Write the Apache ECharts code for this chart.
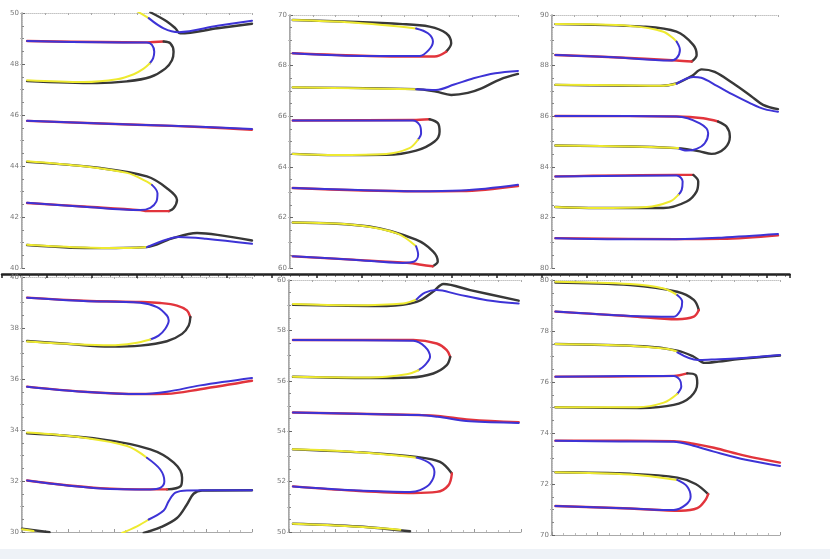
<!DOCTYPE html>
<html>
<head>
<meta charset="utf-8">
<script src="https://cdn.jsdelivr.net/npm/echarts@6/dist/echarts.min.js"></script>
<style>
  html, body { margin: 0; padding: 0; background: #fff; }
  #main { width: 830px; height: 559px; }
</style>
</head>
<body>
<div id="main"></div>
<script>
// y ranges of the six panels (TL, BL, TM, BM, TR, BR)
const yRanges = [[40, 50], [30, 40], [60, 70], [50, 60], [80, 90], [70, 80]];

// ---- panel 1 (top left) ----
const p1_top_yel = [[50, 50.07], [55.1, 49.8]];
const p1_top_blu = [[55.1, 49.8], [61.6, 49.4], [68.1, 49.25], [85, 49.5], [100, 49.7]];
const p1_top_blk = [[55.8, 50.03], [63, 49.67], [66.7, 49.4], [68.8, 49.2], [85, 49.4], [100, 49.58]];
const p1_f1_blu = [[2.2, 48.9], [34, 48.85], [54.3, 48.84], [56.5, 48.75], [57.5, 48.48], [57, 48.22], [55.5, 48.02]];
const p1_f1_yel = [[55.5, 48.02], [52.9, 47.82], [48.6, 47.6], [41.3, 47.4], [26.8, 47.29], [2.2, 47.36]];
const p1_f1_red = [[2.2, 48.9], [34, 48.86], [54.3, 48.85], [61.6, 48.88]];
const p1_f1_blk = [[61.6, 48.88], [64.5, 48.81], [65.9, 48.48], [65.2, 48.15], [62.3, 47.82], [55.8, 47.49], [45.7, 47.32], [32.6, 47.25], [2.2, 47.33]];
const p1_flat_red = [[2.2, 45.77], [50, 45.62], [80, 45.52], [100, 45.42]];
const p1_flat_blu = [[2.2, 45.77], [50, 45.62], [80, 45.53], [100, 45.45]];
const p1_f2_yel = [[2.2, 44.19], [26.8, 43.99], [45.7, 43.73], [54.3, 43.39], [56.5, 43.26]];
const p1_f2_blu = [[56.5, 43.26], [58.9, 42.93], [58.4, 42.6], [55.8, 42.36], [51.4, 42.27], [26.8, 42.4], [2.2, 42.56]];
const p1_f2_blk = [[2.2, 44.16], [34, 43.92], [54.3, 43.59], [63, 43.13], [67.4, 42.67], [65.9, 42.34], [63.8, 42.23]];
const p1_f2_red = [[63.8, 42.23], [54.3, 42.23], [51.4, 42.27], [26.8, 42.41], [2.2, 42.55]];
const p1_bot_yel = [[2.2, 40.91], [26.8, 40.8], [45.7, 40.78], [54.3, 40.82]];
const p1_bot_blu = [[54.3, 40.82], [63, 41.12], [68.1, 41.22], [80, 41.15], [100, 40.95]];
const p1_bot_blk = [[2.2, 40.9], [30, 40.78], [54.3, 40.82], [65, 41.15], [76.1, 41.37], [85, 41.3], [100, 41.08]];

// ---- panel 2 (bottom left) ----
const p2_f1_blu = [[2.2, 39.19], [26.8, 39.06], [51.4, 38.99], [58.7, 38.82], [63, 38.49], [63.8, 38.29], [62.3, 37.97], [59.4, 37.7], [55.8, 37.55]];
const p2_f1_yel = [[55.8, 37.55], [48.6, 37.4], [38.4, 37.32], [19.6, 37.38], [2.2, 37.47]];
const p2_f1_red = [[2.2, 39.19], [26.8, 39.07], [51.4, 39.02], [60.1, 38.98], [67.4, 38.88], [71.7, 38.69], [73.2, 38.43]];
const p2_f1_blk = [[73.2, 38.43], [72.5, 38.1], [69.6, 37.77], [63, 37.48], [51.4, 37.31], [38.4, 37.27], [19.6, 37.38], [2.2, 37.49]];
const p2_flat_blu = [[2.2, 35.7], [26.8, 35.5], [51.4, 35.41], [63, 35.5], [77.5, 35.75], [100, 36.04]];
const p2_flat_red = [[2.2, 35.7], [26.8, 35.5], [51.4, 35.41], [63, 35.42], [77.5, 35.6], [100, 35.93]];
const p2_f2_yel = [[2.2, 33.9], [26.8, 33.7], [45.7, 33.37], [54.3, 32.91]];
const p2_f2_blu = [[54.3, 32.91], [60.1, 32.45], [61.9, 31.99], [60.1, 31.73], [55.8, 31.67], [34, 31.71], [2.2, 32.02]];
const p2_f2_blk = [[2.2, 33.87], [34, 33.64], [55.8, 33.24], [66, 32.72], [69.6, 32.13], [69, 31.8], [63, 31.67]];
const p2_f2_red = [[63, 31.67], [58.7, 31.67], [34, 31.72], [2.2, 32.02]];
const p2_tr_yel = [[43.5, 29.96], [50, 30.22], [55.1, 30.49]];
const p2_tr_blu = [[55.1, 30.49], [61.6, 30.84], [63.8, 31.21], [66.7, 31.54], [71.7, 31.63], [100, 31.64]];
const p2_tr_blk = [[52.9, 29.96], [60.1, 30.18], [67.4, 30.55], [71.7, 31.08], [74.6, 31.5], [78.3, 31.63], [100, 31.64]];
const p2_cor_blk = [[0, 30.13], [12, 29.99]];
const p2_cor_yel = [[0, 30.11], [5, 30.04]];

// ---- panel 3 (top middle) ----
const p3_f1_yel = [[1.2, 69.8], [27.5, 69.7], [55.3, 69.47]];
const p3_f1_blu = [[55.3, 69.47], [60.5, 69.28], [62.7, 68.95], [60.9, 68.62], [56.8, 68.38], [34.8, 68.38], [1.2, 68.49]];
const p3_f1_blk = [[1.2, 69.8], [49.5, 69.64], [61.2, 69.54], [68.5, 69.28], [70.7, 68.88], [68.5, 68.55]];
const p3_f1_red = [[68.5, 68.55], [63.4, 68.36], [56.8, 68.36], [34.8, 68.38], [1.2, 68.49]];
const p3_tr_yel = [[1.2, 67.14], [30, 67.1], [55.3, 67.07]];
const p3_tr_blu = [[55.3, 67.07], [64, 67.04], [72, 67.25], [80.5, 67.5], [90, 67.7], [100, 67.79]];
const p3_tr_blk = [[1.2, 67.14], [55.3, 67.07], [64, 66.97], [70.7, 66.84], [78, 66.92], [84, 67.1], [92, 67.45], [100, 67.67]];
const p3_f2_blu = [[1.2, 65.83], [53.9, 65.83], [56.8, 65.66], [57.5, 65.33], [56.1, 65.07]];
const p3_f2_yel = [[56.1, 65.07], [52.4, 64.74], [42.2, 64.51], [20.2, 64.47], [1.2, 64.51]];
const p3_f2_red = [[1.2, 65.83], [53.9, 65.85], [61.2, 65.88]];
const p3_f2_blk = [[61.2, 65.88], [64.9, 65.72], [65.6, 65.39], [63.4, 65.0], [55.3, 64.64], [42.2, 64.47], [20.2, 64.46], [1.2, 64.51]];
const p3_flat_blu = [[1.2, 63.16], [30, 63.08], [55, 63.03], [75, 63.06], [100, 63.29]];
const p3_flat_red = [[1.2, 63.16], [55, 63.03], [75, 63.04], [100, 63.24]];
const p3_f3_yel = [[1.2, 61.8], [27.5, 61.71], [46.6, 61.38], [55.3, 60.86]];
const p3_f3_blu = [[55.3, 60.86], [56.2, 60.53], [54.6, 60.26], [49.5, 60.2], [27.5, 60.33], [1.2, 60.46]];
const p3_f3_blk = [[1.2, 61.8], [34.8, 61.64], [55.3, 61.12], [62.7, 60.66], [64.8, 60.26], [62.6, 60.07]];
const p3_f3_red = [[62.6, 60.07], [57.5, 60.13], [52.4, 60.2], [27.5, 60.33], [1.2, 60.46]];

// ---- panel 4 (bottom middle) ----
const p4_tr_yel = [[1.7, 59.05], [27.7, 59.0], [49.3, 59.07], [55, 59.23]];
const p4_tr_blu = [[55, 59.23], [58.6, 59.5], [63.7, 59.6], [72.3, 59.44], [85.3, 59.2], [99, 59.07]];
const p4_tr_blk = [[1.7, 59.02], [42.1, 58.97], [55, 59.13], [62.2, 59.54], [66.6, 59.84], [78.1, 59.6], [99, 59.18]];
const p4_f1_blu = [[1.7, 57.62], [53.6, 57.59], [58.6, 57.35], [60.8, 56.95], [58.6, 56.62], [55.8, 56.42]];
const p4_f1_yel = [[55.8, 56.42], [50.7, 56.26], [34.9, 56.13], [1.7, 56.16]];
const p4_f1_red = [[1.7, 57.62], [53.6, 57.62], [63.7, 57.48], [68, 57.22], [69.5, 56.95]];
const p4_f1_blk = [[69.5, 56.95], [68, 56.62], [62.2, 56.29], [52.2, 56.13], [34.9, 56.11], [1.7, 56.16]];
const p4_flat_blu = [[1.7, 54.74], [30, 54.69], [56, 54.64], [64, 54.57], [78, 54.39], [99, 54.33]];
const p4_flat_red = [[1.7, 54.74], [56, 54.64], [64, 54.61], [78, 54.46], [99, 54.36]];
const p4_f2_yel = [[1.7, 53.28], [27.7, 53.18], [55, 52.95]];
const p4_f2_blu = [[55, 52.95], [60.8, 52.72], [62.7, 52.38], [60.8, 51.92], [56.5, 51.66], [52.2, 51.59], [27.7, 51.66], [1.7, 51.81]];
const p4_f2_blk = [[1.7, 53.28], [34.9, 53.14], [55, 52.98], [65.1, 52.78], [70.2, 52.32]];
const p4_f2_red = [[70.2, 52.32], [68.7, 51.85], [63.7, 51.59], [53.6, 51.55], [27.7, 51.64], [1.7, 51.81]];
const p4_bot_blk = [[1.7, 50.33], [30, 50.22], [52.2, 50.03]];
const p4_bot_yel = [[1.7, 50.33], [20, 50.26], [40, 50.15], [48, 50.09]];

// ---- panel 5 (top right) ----
const p5_f1_yel = [[1.5, 89.64], [34.6, 89.57], [49.3, 89.34], [55.1, 88.95]];
const p5_f1_blu = [[55.1, 88.95], [56.6, 88.62], [55.1, 88.29], [52.2, 88.2], [27.2, 88.33], [1.5, 88.42]];
const p5_f1_blk = [[1.5, 89.64], [40.4, 89.54], [55.1, 89.34], [62.5, 88.82], [64, 88.42], [61.8, 88.16]];
const p5_f1_red = [[61.8, 88.16], [55.1, 88.2], [27.2, 88.33], [1.5, 88.42]];
const p5_tr_yel = [[1.5, 87.24], [30, 87.22], [48, 87.2], [55.1, 87.28]];
const p5_tr_blu = [[55.1, 87.28], [62.5, 87.55], [66, 87.52], [73, 87.2], [80.1, 86.85], [88, 86.5], [94, 86.28], [100, 86.18]];
const p5_tr_blk = [[1.5, 87.24], [48, 87.2], [55.1, 87.3], [62, 87.6], [66.2, 87.85], [72, 87.75], [80.1, 87.3], [88, 86.8], [93.4, 86.45], [100, 86.28]];
const p5_f2_blu = [[1.5, 86.01], [55.1, 85.99], [65.4, 85.72], [69.1, 85.33], [67.6, 84.93], [64, 84.71], [59.6, 84.64], [55.9, 84.74]];
const p5_f2_yel = [[55.9, 84.74], [34.6, 84.8], [1.5, 84.84]];
const p5_f2_red = [[1.5, 86.01], [55.1, 85.99], [66.9, 85.92], [73.5, 85.79]];
const p5_f2_blk = [[73.5, 85.79], [77.2, 85.59], [78.7, 85.2], [76.5, 84.74], [70.6, 84.51], [65.4, 84.61], [59.6, 84.7], [55.1, 84.74], [34.6, 84.8], [1.5, 84.84]];
const p5_f3_blu = [[1.5, 83.62], [55.1, 83.66], [57.8, 83.42], [57.4, 83.09], [55.9, 82.89]];
const p5_f3_yel = [[55.9, 82.89], [52.2, 82.63], [41.9, 82.41], [19.9, 82.37], [1.5, 82.41]];
const p5_f3_red = [[1.5, 83.62], [55.1, 83.68], [62.5, 83.68]];
const p5_f3_blk = [[62.5, 83.68], [64.7, 83.42], [64, 83.03], [59.6, 82.63], [49.3, 82.37], [19.9, 82.37], [1.5, 82.41]];
const p5_flat_blu = [[1.5, 81.18], [30, 81.14], [55, 81.14], [75, 81.2], [100, 81.34]];
const p5_flat_red = [[1.5, 81.18], [55, 81.14], [75, 81.15], [100, 81.29]];

// ---- panel 6 (bottom right) ----
const p6_f1_yel = [[1.5, 79.93], [34.4, 79.84], [49, 79.67], [54.9, 79.41]];
const p6_f1_blu = [[54.9, 79.41], [57.1, 79.15], [56.4, 78.82], [53.4, 78.56], [34.4, 78.59], [1.5, 78.76]];
const p6_f1_blk = [[1.5, 79.9], [34.4, 79.8], [54.9, 79.54], [62.2, 79.22], [64.4, 78.82]];
const p6_f1_red = [[64.4, 78.82], [62.2, 78.56], [54.9, 78.46], [34.4, 78.58], [1.5, 78.76]];
const p6_tr_yel = [[1.5, 77.49], [34.4, 77.42], [50, 77.3], [55, 77.19]];
const p6_tr_blu = [[55, 77.16], [64, 76.86], [70, 76.88], [82, 76.93], [100, 77.06]];
const p6_tr_blk = [[1.5, 77.49], [40, 77.4], [55, 77.23], [62, 77.0], [67, 76.75], [73, 76.8], [82, 76.9], [100, 77.04]];
const p6_f2_blu = [[1.5, 76.21], [53.4, 76.24], [56.1, 76.08], [56.7, 75.82], [54.9, 75.53]];
const p6_f2_yel = [[54.9, 75.53], [49, 75.19], [37.3, 75.01], [1.5, 75.01]];
const p6_f2_red = [[1.5, 76.21], [53.4, 76.24], [59.3, 76.34]];
const p6_f2_blk = [[59.3, 76.34], [63, 76.27], [63.7, 75.95], [60.8, 75.42], [53.4, 75.1], [38.8, 74.98], [1.5, 75.01]];
const p6_flat_blu = [[1.5, 73.7], [30, 73.67], [53.4, 73.66], [62, 73.5], [71, 73.27], [85, 72.95], [100, 72.71]];
const p6_flat_red = [[1.5, 73.7], [53.4, 73.68], [62, 73.58], [71, 73.42], [85, 73.1], [100, 72.84]];
const p6_f3_yel = [[1.5, 72.46], [34.4, 72.37], [54.9, 72.16]];
const p6_f3_blu = [[54.9, 72.16], [59.3, 71.9], [60.8, 71.5], [58.6, 71.18], [53.4, 70.98], [34.4, 71.04], [1.5, 71.14]];
const p6_f3_blk = [[1.5, 72.46], [34.4, 72.4], [55, 72.25], [63, 72.0], [68.5, 71.6]];
const p6_f3_red = [[68.5, 71.6], [67.3, 71.37], [63.7, 71.05], [56.4, 70.95], [34.4, 71.04], [1.5, 71.14]];

// which segments go in which panel, with their colour
const panelSegments = [
  [[p1_top_blk, 'blk'], [p1_top_yel, 'yel'], [p1_top_blu, 'blu'],
   [p1_f1_red, 'red'], [p1_f1_blk, 'blk'], [p1_f1_blu, 'blu'], [p1_f1_yel, 'yel'],
   [p1_flat_red, 'red'], [p1_flat_blu, 'blu'],
   [p1_f2_blk, 'blk'], [p1_f2_red, 'red'], [p1_f2_yel, 'yel'], [p1_f2_blu, 'blu'],
   [p1_bot_blk, 'blk'], [p1_bot_yel, 'yel'], [p1_bot_blu, 'blu']],
  [[p2_f1_red, 'red'], [p2_f1_blk, 'blk'], [p2_f1_blu, 'blu'], [p2_f1_yel, 'yel'],
   [p2_flat_red, 'red'], [p2_flat_blu, 'blu'],
   [p2_f2_blk, 'blk'], [p2_f2_red, 'red'], [p2_f2_yel, 'yel'], [p2_f2_blu, 'blu'],
   [p2_tr_blk, 'blk'], [p2_tr_yel, 'yel'], [p2_tr_blu, 'blu'],
   [p2_cor_blk, 'blk'], [p2_cor_yel, 'yel']],
  [[p3_f1_blk, 'blk'], [p3_f1_red, 'red'], [p3_f1_yel, 'yel'], [p3_f1_blu, 'blu'],
   [p3_tr_blk, 'blk'], [p3_tr_yel, 'yel'], [p3_tr_blu, 'blu'],
   [p3_f2_red, 'red'], [p3_f2_blk, 'blk'], [p3_f2_blu, 'blu'], [p3_f2_yel, 'yel'],
   [p3_flat_red, 'red'], [p3_flat_blu, 'blu'],
   [p3_f3_blk, 'blk'], [p3_f3_red, 'red'], [p3_f3_yel, 'yel'], [p3_f3_blu, 'blu']],
  [[p4_tr_blk, 'blk'], [p4_tr_yel, 'yel'], [p4_tr_blu, 'blu'],
   [p4_f1_red, 'red'], [p4_f1_blk, 'blk'], [p4_f1_blu, 'blu'], [p4_f1_yel, 'yel'],
   [p4_flat_red, 'red'], [p4_flat_blu, 'blu'],
   [p4_f2_blk, 'blk'], [p4_f2_red, 'red'], [p4_f2_yel, 'yel'], [p4_f2_blu, 'blu'],
   [p4_bot_blk, 'blk'], [p4_bot_yel, 'yel']],
  [[p5_f1_blk, 'blk'], [p5_f1_red, 'red'], [p5_f1_yel, 'yel'], [p5_f1_blu, 'blu'],
   [p5_tr_blk, 'blk'], [p5_tr_yel, 'yel'], [p5_tr_blu, 'blu'],
   [p5_f2_red, 'red'], [p5_f2_blk, 'blk'], [p5_f2_blu, 'blu'], [p5_f2_yel, 'yel'],
   [p5_f3_red, 'red'], [p5_f3_blk, 'blk'], [p5_f3_blu, 'blu'], [p5_f3_yel, 'yel'],
   [p5_flat_red, 'red'], [p5_flat_blu, 'blu']],
  [[p6_f1_blk, 'blk'], [p6_f1_red, 'red'], [p6_f1_yel, 'yel'], [p6_f1_blu, 'blu'],
   [p6_tr_blk, 'blk'], [p6_tr_yel, 'yel'], [p6_tr_blu, 'blu'],
   [p6_f2_red, 'red'], [p6_f2_blk, 'blk'], [p6_f2_blu, 'blu'], [p6_f2_yel, 'yel'],
   [p6_flat_red, 'red'], [p6_flat_blu, 'blu'],
   [p6_f3_blk, 'blk'], [p6_f3_red, 'red'], [p6_f3_yel, 'yel'], [p6_f3_blu, 'blu']]
];

const colors = { yel: '#eeea30', blu: '#3d33d6', blk: '#383838', red: '#e2343c' };
const widths = { yel: 2, blu: 2, blk: 2.4, red: 2.4 };
const zs = { yel: 4, blu: 4, blk: 3, red: 3 };

// panel boxes: TL, BL, TM, BM, TR, BR
const boxes = [
  { left: 22, top: 13, width: 230, height: 255 },
  { left: 22, top: 277, width: 230, height: 255 },
  { left: 290, top: 15, width: 228, height: 253 },
  { left: 289, top: 280, width: 232, height: 252 },
  { left: 552, top: 15, width: 226, height: 253 },
  { left: 552, top: 280, width: 228, height: 255 }
];
const isBottom = [false, true, false, true, false, true];

const myChart = echarts.init(document.getElementById('main'), null, { renderer: 'canvas' });

const grid = [];
const xAxis = [];
const yAxis = [];
const series = [];
const dotted = { color: '#c4c4c4', width: 1, type: 'dotted' };

boxes.forEach((b, i) => {
  grid.push(Object.assign({ containLabel: false }, b));
  // main x axis (bottom)
  xAxis.push({
    type: 'value', gridIndex: i, min: 0, max: 100, interval: 20,
    axisLine: { show: isBottom[i], onZero: false, lineStyle: { color: '#aaa', width: 1 } },
    axisTick: { show: isBottom[i], length: 3, inside: true, lineStyle: { color: '#999' } },
    minorTick: { show: isBottom[i], splitNumber: 4, length: 2, lineStyle: { color: '#bbb' } },
    axisLabel: { show: false }, splitLine: { show: false }
  });
  // top frame
  xAxis.push({
    type: 'value', gridIndex: i, min: 0, max: 100, interval: 10, position: 'top',
    axisLine: { show: true, lineStyle: dotted },
    axisTick: { show: true, inside: true, length: 2, lineStyle: { color: '#aaa' } },
    axisLabel: { show: false }, splitLine: { show: false }
  });
  yAxis.push({
    type: 'value', gridIndex: i, min: yRanges[i][0], max: yRanges[i][1], interval: 2,
    axisLine: { show: true, onZero: false, lineStyle: { color: '#8a8a8a', width: 1.5 } },
    axisTick: { show: true, length: 3, inside: true, lineStyle: { color: '#666' } },
    minorTick: { show: true, splitNumber: 4, length: 2, lineStyle: { color: '#888' } },
    axisLabel: { show: true, fontSize: 7, color: '#777', margin: 3, fontFamily: 'DejaVu Sans' },
    splitLine: { show: false }
  });
  // right frame
  yAxis.push({
    type: 'value', gridIndex: i, min: yRanges[i][0], max: yRanges[i][1], interval: 1, position: 'right',
    axisLine: { show: true, lineStyle: dotted },
    axisTick: { show: true, inside: true, length: 2, lineStyle: { color: '#bbb' } },
    axisLabel: { show: false }, splitLine: { show: false }
  });

  panelSegments[i].forEach(([pts, c]) => {
    series.push({
      type: 'line', xAxisIndex: 2 * i, yAxisIndex: 2 * i,
      data: pts, smooth: 0.35, showSymbol: false, symbol: 'none',
      silent: true, clip: true, z: zs[c],
      lineStyle: { color: colors[c], width: widths[c], cap: 'round', join: 'round' }
    });
  });
});

// long dark axis across the middle of the figure
grid.push({ left: 2, top: 273, width: 787.5, height: 1 });
xAxis.push({
  type: 'value', gridIndex: 6, min: 0, max: 175, interval: 10, position: 'bottom',
  axisLine: { show: true, onZero: false, lineStyle: { color: '#222', width: 2.5 } },
  axisTick: { show: true, length: 4, lineStyle: { color: '#222', width: 1.5 } },
  minorTick: { show: true, splitNumber: 5, length: 2.5, lineStyle: { color: '#333', width: 1 } },
  axisLabel: { show: false }, splitLine: { show: false }
});
yAxis.push({ type: 'value', gridIndex: 6, show: false, min: 0, max: 1 });

const option = {
  backgroundColor: '#ffffff',
  animation: false,
  graphic: [
    { type: 'rect', shape: { x: 0, y: 549, width: 830, height: 10 }, style: { fill: '#eef2f7' }, silent: true }
  ],
  grid: grid,
  xAxis: xAxis,
  yAxis: yAxis,
  series: series
};

myChart.setOption(option);
</script>
</body>
</html>
